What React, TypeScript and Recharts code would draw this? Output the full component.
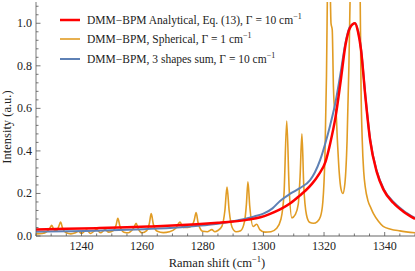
import { LineChart, Line, XAxis, YAxis } from "recharts";

// [Raman shift (cm^-1), intensity (a.u.)]
const analyticalCurve: [number, number][] = [
  [1225, 0.03], [1235, 0.034], [1245, 0.037], [1255, 0.041], [1263, 0.045],
  [1270, 0.049], [1278, 0.055], [1285, 0.062], [1290, 0.068], [1295, 0.077],
  [1299, 0.088], [1302, 0.103], [1305.5, 0.125], [1309, 0.155], [1312, 0.19],
  [1314, 0.215], [1316, 0.245], [1318.3, 0.29], [1320.5, 0.35], [1322.1, 0.44],
  [1323.8, 0.56], [1325.5, 0.73], [1327.1, 0.9], [1328.6, 0.98], [1330.2, 1.0],
  [1331.2, 0.96], [1332.2, 0.875], [1333.6, 0.66], [1335.2, 0.45], [1337.4, 0.3],
  [1339.6, 0.218], [1342.9, 0.155], [1346.2, 0.114], [1350, 0.08],
];

const shapesSumCurve: [number, number][] = [
  [1225, 0.02], [1235, 0.022], [1245, 0.025], [1255, 0.029], [1265, 0.035],
  [1275, 0.044], [1282, 0.053], [1288, 0.065], [1293, 0.078], [1297, 0.092],
  [1300, 0.105], [1303, 0.13], [1305.5, 0.165], [1309, 0.2], [1312, 0.225],
  [1315.4, 0.263], [1317, 0.3], [1318.7, 0.357], [1320.5, 0.44], [1322, 0.52],
  [1323.8, 0.63], [1325.5, 0.77], [1327.1, 0.91], [1328.6, 0.985], [1330.2, 1.0],
  [1331.2, 0.965], [1332.2, 0.88], [1333.6, 0.665], [1335.2, 0.455], [1337.4, 0.305],
  [1339.6, 0.223], [1342.9, 0.16], [1346.2, 0.119], [1350, 0.085],
];

const sphericalCurve: [number, number][] = [
  [1225, 0.01], [1227, 0.012], [1228.5, 0.02], [1229.5, 0.035], [1230.2, 0.05],
  [1230.9, 0.03], [1231.8, 0.025], [1232.5, 0.045], [1233.1, 0.065], [1233.8, 0.035],
  [1235, 0.015], [1236.5, 0.01], [1238, 0.015], [1239, 0.022], [1240, 0.012],
  [1241.7, 0.028], [1243, 0.012], [1245, 0.03], [1246.3, 0.015], [1247.8, 0.03],
  [1249, 0.018], [1250.5, 0.025], [1251.4, 0.05], [1252, 0.083], [1252.7, 0.045],
  [1254, 0.018], [1255.5, 0.015], [1256.5, 0.025], [1257.4, 0.042], [1258, 0.06],
  [1258.7, 0.035], [1260, 0.015], [1261.5, 0.025], [1262.4, 0.06], [1263, 0.105],
  [1263.7, 0.055], [1265, 0.022], [1267, 0.016], [1269, 0.02], [1271, 0.035],
  [1272.5, 0.065], [1273.5, 0.04], [1275, 0.04], [1276.5, 0.05], [1277.2, 0.075],
  [1277.8, 0.11], [1278.5, 0.06], [1280, 0.022], [1281.5, 0.02], [1283, 0.03],
  [1284, 0.02], [1285, 0.026], [1286.3, 0.045], [1287.3, 0.12], [1288, 0.23],
  [1288.7, 0.12], [1289.7, 0.04], [1291, 0.02], [1292.5, 0.025], [1293.8, 0.07],
  [1294.4, 0.15], [1294.9, 0.255], [1295.5, 0.14], [1296.6, 0.045], [1297.8, 0.055],
  [1298.8, 0.03], [1300.5, 0.018], [1302.5, 0.02], [1304.3, 0.035], [1305.8, 0.08],
  [1306.8, 0.2], [1307.7, 0.54], [1308.5, 0.22], [1309.4, 0.085], [1310.5, 0.1],
  [1311.5, 0.15], [1312.1, 0.28], [1312.7, 0.48], [1313.3, 0.24], [1314.2, 0.1],
  [1315.2, 0.065], [1316.5, 0.06], [1317.8, 0.068], [1318.8, 0.09], [1319.6, 0.16],
  [1320.3, 0.38], [1320.8, 0.75], [1321.2, 1.25], [1321.6, 1.6], [1322, 1.2],
  [1322.3, 1.0], [1322.7, 0.97], [1323.1, 0.7], [1323.5, 0.6], [1323.9, 0.59],
  [1324.4, 0.45], [1325, 0.3], [1325.6, 0.22], [1326.2, 0.2], [1326.9, 0.25],
  [1327.6, 0.45], [1328.2, 0.8], [1328.7, 1.2], [1329.5, 2.2], [1330.3, 2.8],
  [1331.2, 2.2], [1331.9, 1.15], [1332.2, 0.7], [1332.6, 0.45], [1333.1, 0.3],
  [1333.6, 0.23], [1334.5, 0.165], [1335.5, 0.13], [1336.3, 0.105], [1338, 0.068],
  [1339.5, 0.045], [1342, 0.032], [1345, 0.024], [1350, 0.015],
];

const xMajorTicks = [1240, 1260, 1280, 1300, 1320, 1340];
const xAllTicks = [
  1225, 1230, 1235, 1240, 1245, 1250, 1255, 1260, 1265, 1270, 1275, 1280, 1285,
  1290, 1295, 1300, 1305, 1310, 1315, 1320, 1325, 1330, 1335, 1340, 1345, 1350,
];
const yAllTicks = [
  0, 0.04, 0.08, 0.12, 0.16, 0.2, 0.24, 0.28, 0.32, 0.36, 0.4, 0.44, 0.48, 0.52,
  0.56, 0.6, 0.64, 0.68, 0.72, 0.76, 0.8, 0.84, 0.88, 0.92, 0.96, 1.0, 1.04, 1.08,
];

const toPoints = (pts: [number, number][]) => pts.map(([x, y]) => ({ x, y }));

const FONT = "Liberation Serif, Tinos, Times New Roman, serif";
const RED = "#FF0000";
const ORANGE = "#E19C24";
const BLUE = "#5E81B5";

function XTick({ x, y, payload }: any) {
  const major = xMajorTicks.includes(payload.value);
  return (
    <g>
      <line x1={x} x2={x} y1={y} y2={y - (major ? 4 : 2.5)} stroke="#555" strokeWidth={0.8} />
      {major && (
        <text x={x} y={y + 14} textAnchor="middle" fontSize={12} style={{ fontFamily: FONT }} fill="#222">
          {payload.value}
        </text>
      )}
    </g>
  );
}

function YTick({ x, y, payload }: any) {
  const v = payload.value as number;
  const major = Math.abs(v * 5 - Math.round(v * 5)) < 1e-6;
  return (
    <g>
      <line x1={x} x2={x + (major ? 4.5 : 2.5)} y1={y} y2={y} stroke="#555" strokeWidth={0.8} />
      {major && (
        <text x={x - 4} y={y + 4} textAnchor="end" fontSize={12} style={{ fontFamily: FONT }} fill="#222">
          {v.toFixed(1)}
        </text>
      )}
    </g>
  );
}

const legendRows = [
  { color: RED, width: 2.5, text: "DMM\u2212BPM Analytical, Eq. (13), \u0393 = 10 cm" },
  { color: ORANGE, width: 1.6, text: "DMM\u2212BPM, Spherical, \u0393 = 1 cm" },
  { color: BLUE, width: 2, text: "DMM\u2212BPM, 3 shapes sum, \u0393 = 10 cm" },
];

export default function App() {
  return (
    <div style={{ position: "absolute", left: 0, top: 0, width: 415, height: 271, background: "#fff" }}>
      <LineChart width={415} height={271} margin={{ top: 2, right: 0, bottom: 0, left: 0 }}>
        <XAxis
          type="number"
          dataKey="x"
          domain={[1225, 1350]}
          allowDataOverflow
          ticks={xAllTicks}
          interval={0}
          height={35}
          tickSize={0}
          tickMargin={0}
          tick={<XTick />}
          axisLine={{ stroke: "#999", strokeWidth: 1.5 }}
          tickLine={false}
        />
        <YAxis
          type="number"
          dataKey="y"
          domain={[0, 1.1]}
          allowDataOverflow
          ticks={yAllTicks}
          interval={0}
          width={36}
          tickSize={0}
          tickMargin={0}
          tick={<YTick />}
          axisLine={{ stroke: "#555", strokeWidth: 0.8 }}
          tickLine={false}
        />
        <Line
          data={toPoints(sphericalCurve)}
          dataKey="y"
          type="monotone"
          stroke={ORANGE}
          strokeWidth={1.6}
          dot={false}
          isAnimationActive={false}
        />
        <Line
          data={toPoints(shapesSumCurve)}
          dataKey="y"
          type="monotone"
          stroke={BLUE}
          strokeWidth={2}
          dot={false}
          isAnimationActive={false}
        />
        <Line
          data={toPoints(analyticalCurve)}
          dataKey="y"
          type="monotone"
          stroke={RED}
          strokeWidth={2.5}
          dot={false}
          isAnimationActive={false}
        />
        <text
          x={11}
          y={127}
          transform="rotate(-90 11 127)"
          textAnchor="middle"
          fontSize={12.5}
          style={{ fontFamily: FONT }}
          fill="#222"
        >
          Intensity (a.u.)
        </text>
        <text x={217} y={267} textAnchor="middle" fontSize={12.5} style={{ fontFamily: FONT }} fill="#222">
          Raman shift (cm
          <tspan fontSize={8.5} dy={-5}>{"\u22121"}</tspan>
          <tspan dy={5}>)</tspan>
        </text>
      </LineChart>
      <div style={{ position: "absolute", left: 60, top: 10, fontFamily: FONT, fontSize: 11.5, color: "#222" }}>
        {legendRows.map((r) => (
          <div key={r.text} style={{ display: "flex", alignItems: "center", height: 19.5, whiteSpace: "nowrap" }}>
            <svg width={20} height={6} style={{ marginRight: 7 }}>
              <line x1={0} x2={20} y1={3} y2={3} stroke={r.color} strokeWidth={r.width} />
            </svg>
            <span>
              {r.text}
              <sup style={{ fontSize: 8, lineHeight: 0 }}>{"\u22121"}</sup>
            </span>
          </div>
        ))}
      </div>
    </div>
  );
}
